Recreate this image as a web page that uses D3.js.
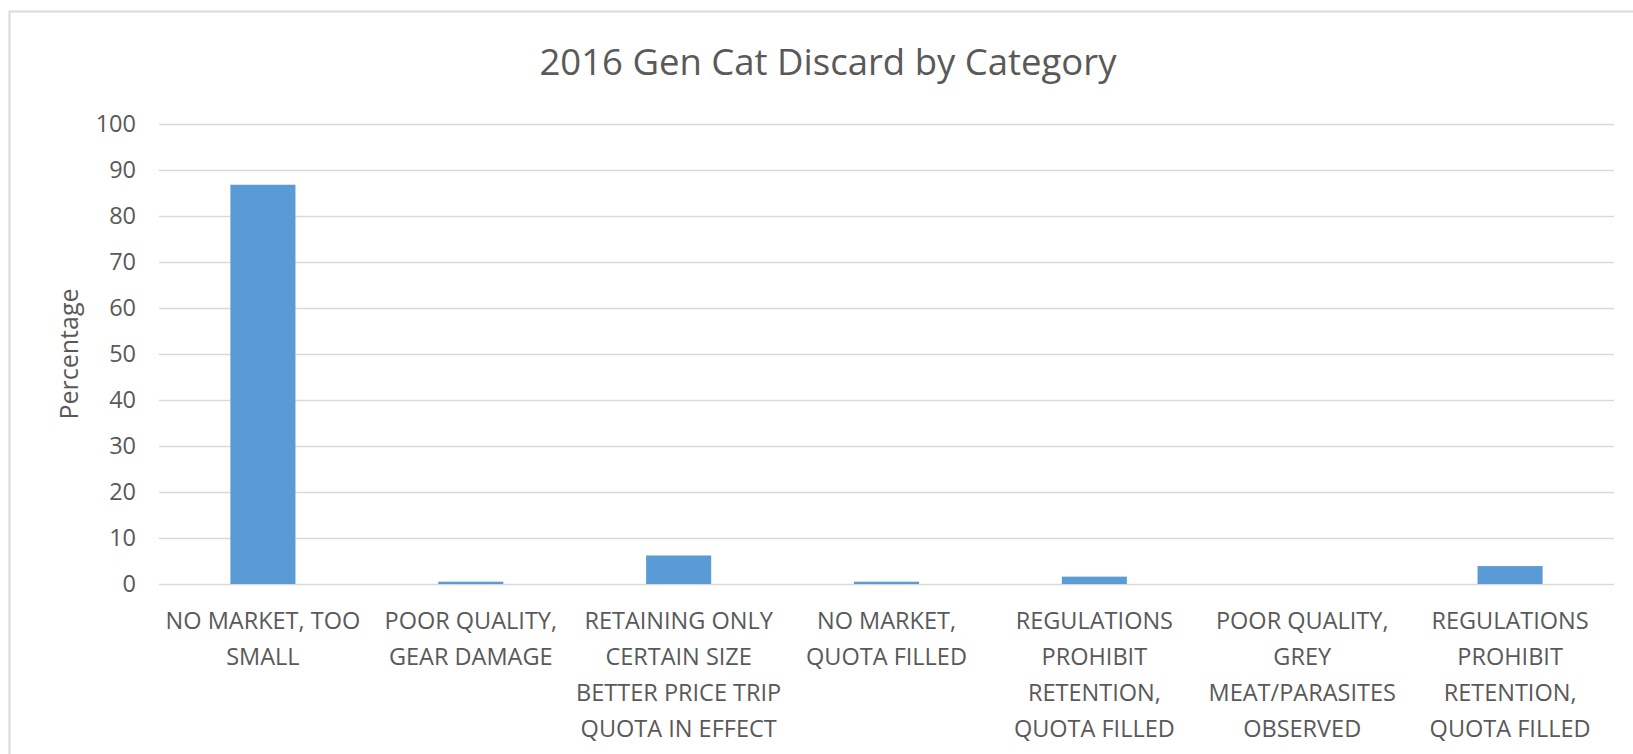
<!DOCTYPE html>
<html>
<head>
<meta charset="utf-8">
<script src="https://cdn.jsdelivr.net/npm/d3@7"></script>
<style>
  html, body { margin: 0; padding: 0; background: #fff; overflow: hidden; }
  svg { display: block; }
  text { font-family: 'Open Sans', sans-serif; fill: #595959; }
</style>
</head>
<body>
<svg id="chart"></svg>
<script>
// data
const categories = [
  'NO MARKET, TOO SMALL',
  'POOR QUALITY, GEAR DAMAGE',
  'RETAINING ONLY CERTAIN SIZE BETTER PRICE TRIP QUOTA IN EFFECT',
  'NO MARKET, QUOTA FILLED',
  'REGULATIONS PROHIBIT RETENTION, QUOTA FILLED',
  'POOR QUALITY, GREY MEAT/PARASITES OBSERVED',
  'REGULATIONS PROHIBIT RETENTION, QUOTA FILLED (2)'
];
const categoryLines = [
  ['NO MARKET, TOO', 'SMALL'],
  ['POOR QUALITY,', 'GEAR DAMAGE'],
  ['RETAINING ONLY', 'CERTAIN SIZE', 'BETTER PRICE TRIP', 'QUOTA IN EFFECT'],
  ['NO MARKET,', 'QUOTA FILLED'],
  ['REGULATIONS', 'PROHIBIT', 'RETENTION,', 'QUOTA FILLED'],
  ['POOR QUALITY,', 'GREY', 'MEAT/PARASITES', 'OBSERVED'],
  ['REGULATIONS', 'PROHIBIT', 'RETENTION,', 'QUOTA FILLED']
];
const values = [86.8, 0.5, 6.2, 0.5, 1.6, 0, 3.9];
const yTicks = [0, 10, 20, 30, 40, 50, 60, 70, 80, 90, 100];

const width = 1633;
const height = 754;
const margin = { top: 124, right: 19, bottom: 170, left: 159 };
const innerWidth = width - margin.left - margin.right;
const innerHeight = height - margin.top - margin.bottom;

const svg = d3.select('#chart')
  .attr('width', width)
  .attr('height', height);

// outer chart border (cut off at the right and bottom like the source)
svg.append('rect')
  .attr('x', 9.5)
  .attr('y', 11.5)
  .attr('width', width + 20)
  .attr('height', height + 20)
  .attr('fill', 'none')
  .attr('stroke', '#d9d9d9')
  .attr('stroke-width', 2);

const chart = svg.append('g')
  .attr('transform', `translate(${ margin.left },${ margin.top })`);

const xScale = d3.scaleBand()
  .domain(categories)
  .range([0, innerWidth])
  .paddingInner(0.687)
  .paddingOuter(0.687 / 2);

const yScale = d3.scaleLinear()
  .domain([0, 100])
  .range([innerHeight, 0]);

// gridlines
chart.append('g')
  .attr('class', 'grid')
  .call(d3.axisLeft(yScale).tickValues(yTicks).tickSize(-innerWidth).tickFormat(''))
  .call(g => g.select('.domain').remove())
  .call(g => g.selectAll('line').attr('stroke', '#d9d9d9').attr('stroke-width', 1.5));

// y tick labels
chart.append('g')
  .attr('class', 'axis y')
  .call(d3.axisLeft(yScale).tickValues(yTicks).tickSize(0).tickPadding(23))
  .call(g => g.select('.domain').remove())
  .call(g => g.selectAll('text')
    .style('font-family', "'Open Sans', sans-serif")
    .style('font-size', '23.5px')
    .attr('fill', '#595959'));

// bars
chart.selectAll('.bar')
  .data(values)
  .enter().append('rect')
  .attr('class', 'bar')
  .attr('x', (d, i) => xScale(categories[i]))
  .attr('y', d => yScale(d))
  .attr('width', xScale.bandwidth())
  .attr('height', d => innerHeight - yScale(d))
  .attr('fill', '#5b9bd5');

// x labels
const xAxis = chart.append('g')
  .attr('class', 'axis x')
  .attr('transform', `translate(0,${ innerHeight })`)
  .call(d3.axisBottom(xScale).tickSize(0).tickFormat(''))
  .call(g => g.select('.domain').remove());

xAxis.selectAll('.tick').each(function (d, i) {
  const t = d3.select(this).append('text')
    .attr('text-anchor', 'middle')
    .style('font-size', '23.5px')
    .attr('fill', '#595959');
  categoryLines[i].forEach((line, j) => {
    t.append('tspan')
      .attr('x', 0)
      .attr('y', 45 + j * 36)
      .text(line);
  });
});

// y title
svg.append('text')
  .attr('transform', `translate(78,354) rotate(-90)`)
  .attr('text-anchor', 'middle')
  .style('font-size', '25px')
  .text('Percentage');

// chart title
svg.append('text')
  .attr('x', 828)
  .attr('y', 75)
  .attr('text-anchor', 'middle')
  .style('font-size', '36.5px')
  .text('2016 Gen Cat Discard by Category');
</script>
</body>
</html>
